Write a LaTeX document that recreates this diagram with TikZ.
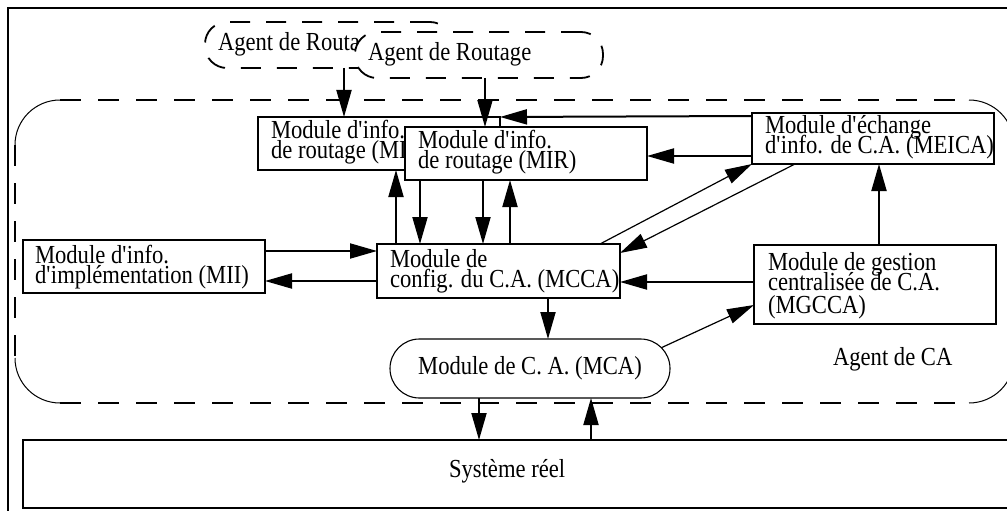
\documentclass[tikz,border=0pt]{standalone}
\usepackage{fontspec}
\setmainfont{Liberation Serif}
\newfontfamily\diagfamily[FakeStretch=0.87]{Liberation Serif}
\usetikzlibrary{arrows.meta,shapes.misc}
\newcommand\firststrut{\rule{0pt}{19pt}}
\newcommand\ap{\textquotesingle}
\newcommand\diagfont{\fontsize{26}{20}\diagfamily\lineskiplimit=-50pt\relax}
\begin{document}
\begin{tikzpicture}[x=1pt,y=-1pt,
  every node/.style={inner sep=0pt,outer sep=0pt},
  txt/.style={font=\diagfont,align=left,anchor=north west,inner sep=0pt},
  box/.style={draw,line width=2.5pt,fill=white,anchor=north west,rectangle,inner sep=0pt},
  agentbox/.style={draw,line width=1.8pt,dash pattern=on 20pt off 16pt,rounded corners=22pt,anchor=north west,rectangle},
  cadash/.style={line width=2.5pt,dash pattern=on 21pt off 17pt},
  cacorner/.style={line width=1pt},
  mcabox/.style={draw,line width=1.1pt,fill=white,rounded rectangle,minimum width=280pt,minimum height=59pt,font=\diagfont},
  arr/.style={line width=2pt,-{Triangle[length=27pt,width=15pt]}},
  thinarr/.style={line width=1.2pt,-{Triangle[length=27pt,width=15pt]}},
  frame/.style={line width=2.5pt}
]
\useasboundingbox (0,0) rectangle (1007,511);
\clip (0,0) rectangle (1007,511);

% outer frame
\draw[frame] (8,8) rectangle (1040,540);

% Agent de CA container
\node[anchor=north west,minimum width=999pt,minimum height=303pt] (ca) at (15,100) {};
\draw[cadash] ([xshift=45pt]ca.north west) -- ([xshift=-45pt]ca.north east);
\draw[cadash] ([xshift=45pt]ca.south west) -- ([xshift=-45pt]ca.south east);
\draw[cadash] ([yshift=-45pt]ca.north west) -- ([yshift=45pt]ca.south west);
\draw[cadash] ([yshift=-45pt]ca.north east) -- ([yshift=45pt]ca.south east);
\draw[cacorner] ([yshift=-45pt]ca.north west) arc[start angle=180,end angle=90,radius=45pt];
\draw[cacorner] ([xshift=-45pt]ca.north east) arc[start angle=90,end angle=0,radius=45pt];
\draw[cacorner] ([yshift=45pt]ca.south west) arc[start angle=180,end angle=270,radius=45pt];
\draw[cacorner] ([xshift=-45pt]ca.south east) arc[start angle=270,end angle=360,radius=45pt];
\node[txt] (calabel) at (833,346) {\firststrut Agent de CA};

% Agents de routage
\node[agentbox,minimum width=247pt,minimum height=46pt] (agb) at (205,22) {};
\node[txt] (agbt) at (218,32) {\firststrut Agent de Routage};
\node[agentbox,fill=white,minimum width=248pt,minimum height=46pt] (agf) at (355,32) {};
\node[txt] (agft) at (368,42) {\firststrut Agent de Routage};

% modules
\node[box,minimum width=242pt,minimum height=53pt] (mir1) at (258,117) {};
\node[txt] (mir1t) at (271,119) {\firststrut Module d\ap info.\\de routage (MIR)};
\node[box,minimum width=242pt,minimum height=53pt] (mir2) at (405,127) {};
\node[txt] (mir2t) at (418,129) {\firststrut Module d\ap info.\\de routage (MIR)};

\node[box,minimum width=242pt,minimum height=51pt] (meica) at (752,113) {};
\node[txt] (meicat) at (765,114) {\firststrut Module d\ap échange\\d\ap info. de C.A. (MEICA)};

\node[box,minimum width=242pt,minimum height=53pt] (mii) at (23,240) {};
\node[txt] (miit) at (35,244) {\firststrut Module d\ap info.\\d\ap implémentation (MII)};

\node[box,minimum width=243pt,minimum height=54pt] (mcca) at (377,244) {};
\node[txt] (mccat) at (390,248) {\firststrut Module de\\config. du C.A. (MCCA)};

\node[box,minimum width=242pt,minimum height=79pt] (mgcca) at (754,245) {};
\node[txt] (mgccat) at (768,251) {\firststrut Module de gestion\\centralisée de C.A.\\[3pt](MGCCA)};

\node[mcabox] (mca) at (530,368.5) {Module de C. A. (MCA)};

\node[box,minimum width=1040pt,minimum height=68pt] (sys) at (23,440) {};
\node[txt] (syst) at (449,458) {\firststrut Système réel};

% connectors
\draw[arr] (344,0 |- agb.south) -- (344,0 |- mir1.north);
\draw[arr] (485,0 |- agf.south) -- (485,0 |- mir2.north);
\draw[arr] (meica.west |- 0,116) -- (mir1.north east);
\draw[arr] (meica.west |- 0,156) -- (mir2.east |- 0,156);
\draw[arr] (396,0 |- mcca.north) -- (396,0 |- mir1.south);
\draw[arr] (420,0 |- mir2.south) -- (420,0 |- mcca.north);
\draw[arr] (483,0 |- mir2.south) -- (483,0 |- mcca.north);
\draw[arr] (510,0 |- mcca.north) -- (510,0 |- mir2.south);
\draw[arr] (mii.east |- 0,251) -- (mcca.west |- 0,251);
\draw[arr] (mcca.west |- 0,281) -- (mii.east |- 0,281);
\draw[thinarr] (600,0 |- mcca.north) -- (meica.south west);
\draw[thinarr] (795,0 |- meica.south) -- (mcca.east |- 0,253);
\draw[arr] (mgcca.west |- 0,282) -- (mcca.east |- 0,282);
\draw[arr] (879,0 |- mgcca.north) -- (879,0 |- meica.south);
\draw[arr] (548,0 |- mcca.south) -- (548,0 |- mca.north);
\draw[thinarr] (mca.9) -- (mgcca.west |- 0,305);
\draw[arr] (479,0 |- mca.south) -- (479,0 |- sys.north);
\draw[arr] (591,0 |- sys.north) -- (591,0 |- mca.south);
\end{tikzpicture}
\end{document}
